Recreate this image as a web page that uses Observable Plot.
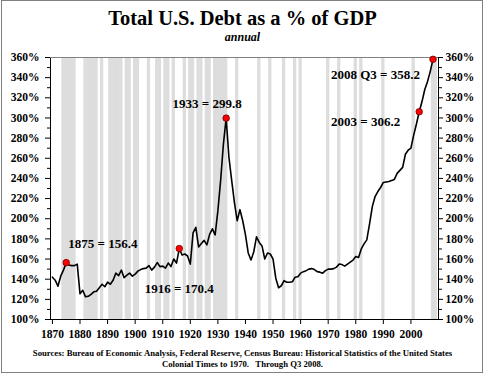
<!DOCTYPE html>
<html><head><meta charset="utf-8">
<script src="https://cdn.jsdelivr.net/npm/d3@7"></script>
<script src="https://cdn.jsdelivr.net/npm/@observablehq/plot@0.6"></script>
<style>
body{margin:0;background:#fff;}
#wrap{position:relative;width:485px;height:375px;overflow:hidden;font-family:"Liberation Serif","Times New Roman",serif;font-weight:bold;color:#000;}
#border{position:absolute;left:1px;top:0px;width:482px;height:373px;border:1px solid #808080;box-sizing:border-box;pointer-events:none;}
.t{position:absolute;left:0;width:485px;text-align:center;white-space:nowrap;line-height:1;}
#title{top:8px;font-size:20.5px;}
#sub{top:31px;font-size:12px;font-style:italic;}
#src1{top:349px;font-size:8.7px;}
#src2{top:359.5px;font-size:8.7px;}
#chart{position:absolute;left:0;top:0;}
</style>
</head><body>
<div id="wrap">
  <div id="chart"></div>
  <div class="t" id="title">Total U.S. Debt as a % of GDP</div>
  <div class="t" id="sub">annual</div>
  <div class="t" id="src1">Sources: Bureau of Economic Analysis, Federal Reserve, Census Bureau: Historical Statistics of the United States</div>
  <div class="t" id="src2">Colonial Times to 1970.&nbsp;&nbsp; Through Q3 2008.</div>
  <div id="border"></div>
</div>
<script>
// ---- data ----
const years = d3.range(1870, 2009);
const debt = [
  142, 139, 133, 143, 149, 156.4, 154, 153.5, 153.5, 155,          // 1870-1879
  125.5, 129, 122.5, 123, 125, 127.5, 128, 131.5, 135, 132.5,      // 1880-1889
  137, 135, 139, 146, 143.5, 149, 141.5, 144, 146, 143,            // 1890-1899
  145, 148, 149.5, 150.5, 151, 153.5, 149, 152, 156.5, 152.5,      // 1900-1909
  153, 151, 156, 152.5, 160, 156, 170.4, 164, 165, 163,            // 1910-1919
  155, 186, 191.5, 172, 175.5, 178.5, 174, 184.5, 190, 184,        // 1920-1929
  208, 238, 274, 299.8, 261, 238, 216, 198, 209, 198,              // 1930-1939
  184, 166, 159, 167, 182, 176.5, 173, 160, 166, 165,              // 1940-1949
  160, 141, 131.5, 133.5, 138.5, 137, 137, 137.5, 142, 142.5,      // 1950-1959
  146, 147.5, 148.5, 150, 150.5, 149.5, 147.5, 147, 146, 148.5,    // 1960-1969
  150, 150, 150.5, 152, 155, 154.5, 153, 155, 157, 159,            // 1970-1979
  162.5, 161.5, 170, 175, 179, 195, 212, 222, 227, 231,            // 1980-1989
  236, 236.5, 237, 238, 239, 245, 248, 251, 264, 268,              // 1990-1999
  270, 283, 294, 306.2, 316, 328, 336, 346, 358.2                  // 2000-2008
];
const recessionYears = [1869, 1874, 1875, 1876, 1877, 1878, 1882, 1883, 1884, 1885, 1886, 1888,
  1891, 1892, 1893, 1894, 1895, 1897, 1898, 1900, 1901, 1905, 1908, 1909, 1911, 1912, 1914,
  1918, 1920, 1921, 1923, 1924, 1926, 1927, 1929, 1930, 1931, 1932, 1933, 1937,
  1945, 1949, 1954, 1958, 1960, 1970, 1974, 1980, 1982, 1990, 2001, 2008, 2009];
const noteYears  = [1875, 1916, 1933, 2003, 2008];
const noteValues = [156.4, 170.4, 299.8, 306.2, 358.2];
const noteLabels = ["1875 = 156.4", "1916 = 170.4", "1933 = 299.8", "2003 = 306.2", "2008 Q3 = 358.2"];
const yTickValues = d3.range(100, 361, 20);
const yMinorValues = d3.range(110, 360, 20);
const xTickValues = d3.range(1870, 2001, 10);

// ---- build ----
const series = years.map((y, i) => ({year: y, value: debt[i]}));
const notes = noteYears.map((y, i) => ({year: y, value: noteValues[i], label: noteLabels[i]}));
const noteLayout = [
  {dx: 2, dy: -19, textAnchor: "start"},
  {dx: 0, dy: 40, textAnchor: "middle"},
  {dx: -19, dy: -14, textAnchor: "middle"},
  {dx: -19, dy: 10, textAnchor: "end"},
  {dx: -13, dy: 16, textAnchor: "end"}
];
const font = "'Liberation Serif','Times New Roman',serif";

const noteMarks = notes.map((n, i) => Plot.text([n], {
  x: "year", y: "value", text: "label",
  dx: noteLayout[i].dx, dy: noteLayout[i].dy, textAnchor: noteLayout[i].textAnchor,
  fontSize: 13, fontWeight: "bold", fontFamily: font, fill: "black", ariaLabel: "note"
}));

const chart = Plot.plot({
  width: 485, height: 375,
  marginTop: 57, marginBottom: 56, marginLeft: 50, marginRight: 47,
  x: {domain: [1869.3, 2010], axis: null},
  y: {domain: [100, 360], axis: null},
  style: {fontFamily: font, fontSize: "11.5px", fontWeight: "bold", color: "black", background: "transparent"},
  marks: [
    Plot.rect(recessionYears, {x1: d => d - 0.6, x2: d => d + 0.6, fill: "#dddddd", clip: true}),
    ...noteMarks,
    Plot.frame({stroke: "black", strokeWidth: 1}),
    Plot.ruleY([d3.max(yTickValues)], {stroke: "#808080", strokeWidth: 1.2}),
    Plot.axisY(yTickValues, {anchor: "left", tickSize: 5, tickPadding: 6, tickFormat: d => d + "%", label: null}),
    Plot.axisY(yMinorValues, {anchor: "left", tickSize: 3, tickFormat: () => "", label: null}),
    Plot.axisY(yTickValues, {anchor: "right", tickSize: 4, tickPadding: 3, tickFormat: d => d + "%", label: null}),
    Plot.axisY(yMinorValues, {anchor: "right", tickSize: 3, tickFormat: () => "", label: null}),
    Plot.axisX(xTickValues, {anchor: "bottom", tickSize: 5, tickPadding: 5, tickFormat: d => String(d), label: null}),
    Plot.line(series, {x: "year", y: "value", stroke: "black", strokeWidth: 1.6}),
    Plot.dot(notes, {x: "year", y: "value", r: 3.3, fill: "#ff0000", stroke: "#550000", strokeWidth: 0.7})
  ]
});
document.getElementById("chart").appendChild(chart);

// white boxes behind note labels
const ns = "http://www.w3.org/2000/svg";
chart.querySelectorAll('g[aria-label="note"] text').forEach(t => {
  const b = t.getBBox();
  const r = document.createElementNS(ns, "rect");
  r.setAttribute("x", b.x - 4);
  r.setAttribute("y", b.y - 4);
  r.setAttribute("width", b.width + 8);
  r.setAttribute("height", b.height + 8);
  r.setAttribute("fill", "white");
  if (t.getAttribute("transform")) r.setAttribute("transform", t.getAttribute("transform"));
  t.parentNode.insertBefore(r, t);
});
</script>
</body></html>
